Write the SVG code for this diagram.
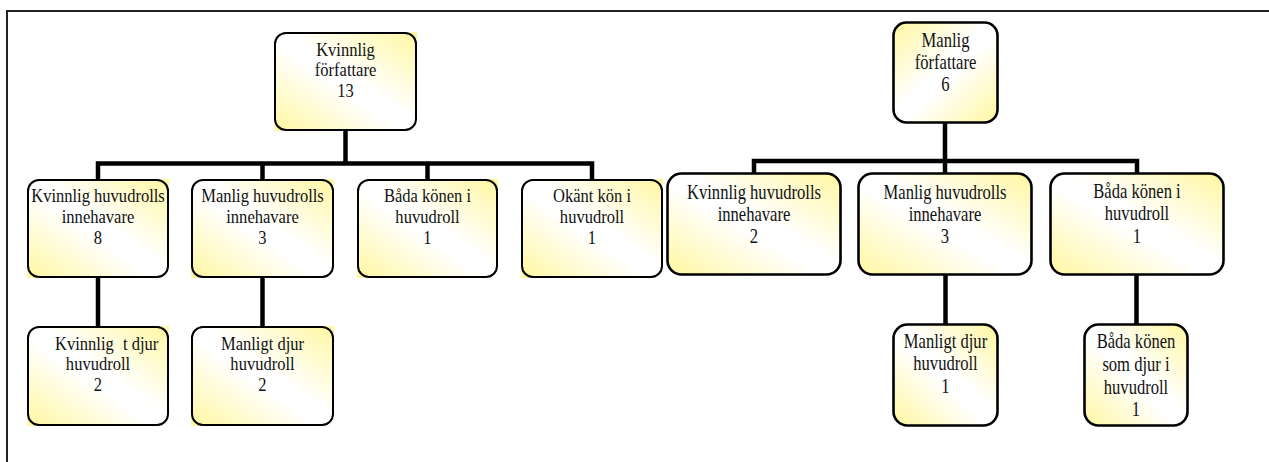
<svg xmlns="http://www.w3.org/2000/svg" width="1269" height="462" viewBox="0 0 1269 462">
<style>
.t{font-family:'Liberation Serif','Times New Roman',serif;fill:#111;text-anchor:middle}
.l{font-size:19px}
.r{font-size:21px}
.bg{stroke:none}
.bl{fill:none;stroke:#000;stroke-width:2}
.br{stroke:#000;stroke-width:2.6}
.cn{fill:none;stroke:#000;stroke-width:4.5;stroke-linejoin:miter}
</style>
<defs>
<linearGradient id="ga" x1="0" y1="1" x2="1" y2="0">
<stop offset="0" stop-color="#fff7a0"/>
<stop offset="0.45" stop-color="#ffffff"/>
<stop offset="0.55" stop-color="#ffffff"/>
<stop offset="1" stop-color="#fff7a0"/>
</linearGradient>
<linearGradient id="gb" x1="0" y1="0" x2="1" y2="1">
<stop offset="0" stop-color="#fff7a0"/>
<stop offset="0.45" stop-color="#ffffff"/>
<stop offset="0.55" stop-color="#ffffff"/>
<stop offset="1" stop-color="#fff7a0"/>
</linearGradient>
</defs>
<rect width="1269" height="462" fill="#fff"/>
<path d="M7,462 V11 H1269" fill="none" stroke="#222" stroke-width="2"/>

<g id="connectors">
<path class="cn" d="M98,179 V163.5 H592 V179"/>
<path class="cn" d="M345.5,131 V163.5"/>
<path class="cn" d="M262.5,163.5 V179"/>
<path class="cn" d="M427.5,163.5 V179"/>
<path class="cn" d="M98,278 V326"/>
<path class="cn" d="M262.5,278 V326"/>
<path class="cn" d="M754,173 V161 H1137 V173"/>
<path class="cn" d="M945,123 V173"/>
<path class="cn" d="M945.5,275 V324"/>
<path class="cn" d="M1136.5,275 V324"/>
</g>

<g font-family="Liberation Serif, Times New Roman, serif">

<g id="n_kvinnlig_forfattare">
<rect class="bg" x="274" y="32" width="143" height="99" fill="url(#ga)"/>
<rect class="bl" x="275" y="33" width="141" height="97" rx="11"/>
<g transform="translate(345.5,0) scale(0.87,1)">
<text class="t l" x="0" y="56">Kvinnlig</text>
<text class="t l" x="0" y="76">författare</text>
<text class="t l" x="0" y="97">13</text>
</g>
</g>

<g id="n_l_kvinnlig_huvudroll">
<rect class="bg" x="27" y="179" width="142" height="99" fill="url(#ga)"/>
<rect class="bl" x="28" y="180" width="140" height="97" rx="11"/>
<g transform="translate(98,0) scale(0.87,1)">
<text class="t l" x="0" y="202">Kvinnlig huvudrolls</text>
<text class="t l" x="0" y="223">innehavare</text>
<text class="t l" x="0" y="244">8</text>
</g>
</g>

<g id="n_l_manlig_huvudroll">
<rect class="bg" x="191" y="179" width="143" height="99" fill="url(#ga)"/>
<rect class="bl" x="192" y="180" width="141" height="97" rx="11"/>
<g transform="translate(262.5,0) scale(0.87,1)">
<text class="t l" x="0" y="202">Manlig huvudrolls</text>
<text class="t l" x="0" y="223">innehavare</text>
<text class="t l" x="0" y="244">3</text>
</g>
</g>

<g id="n_l_bada">
<rect class="bg" x="357" y="179" width="141" height="99" fill="url(#ga)"/>
<rect class="bl" x="358" y="180" width="139" height="97" rx="11"/>
<g transform="translate(427.5,0) scale(0.87,1)">
<text class="t l" x="0" y="202">Båda könen i</text>
<text class="t l" x="0" y="223">huvudroll</text>
<text class="t l" x="0" y="244">1</text>
</g>
</g>

<g id="n_l_okant">
<rect class="bg" x="521" y="179" width="142" height="99" fill="url(#ga)"/>
<rect class="bl" x="522" y="180" width="140" height="97" rx="11"/>
<g transform="translate(592,0) scale(0.87,1)">
<text class="t l" x="0" y="202">Okänt kön i</text>
<text class="t l" x="0" y="223">huvudroll</text>
<text class="t l" x="0" y="244">1</text>
</g>
</g>

<g id="n_l_kvinnligt_djur">
<rect class="bg" x="27" y="326" width="142" height="100" fill="url(#ga)"/>
<rect class="bl" x="28" y="327" width="140" height="98" rx="11"/>
<g transform="translate(98,0) scale(0.87,1)">
<text class="t l" x="-49.4" y="350" style="text-anchor:start">Kvinnlig<tspan x="28.7">t djur</tspan></text>
<text class="t l" x="0" y="370">huvudroll</text>
<text class="t l" x="0" y="391">2</text>
</g>
</g>

<g id="n_l_manligt_djur">
<rect class="bg" x="191" y="326" width="143" height="100" fill="url(#ga)"/>
<rect class="bl" x="192" y="327" width="141" height="98" rx="11"/>
<g transform="translate(262.5,0) scale(0.87,1)">
<text class="t l" x="0" y="350">Manligt djur</text>
<text class="t l" x="0" y="370">huvudroll</text>
<text class="t l" x="0" y="391">2</text>
</g>
</g>

<g id="n_manlig_forfattare">
<rect class="br" x="893.5" y="22.5" width="104" height="100" rx="13" fill="url(#gb)"/>
<g transform="translate(945.5,0) scale(0.79,1)">
<text class="t r" x="0" y="47">Manlig</text>
<text class="t r" x="0" y="69">författare</text>
<text class="t r" x="0" y="91">6</text>
</g>
</g>

<g id="n_r_kvinnlig_huvudroll">
<rect class="br" x="667.5" y="173.5" width="173" height="101" rx="14" fill="url(#ga)"/>
<g transform="translate(754,0) scale(0.79,1)">
<text class="t r" x="0" y="199">Kvinnlig huvudrolls</text>
<text class="t r" x="0" y="221">innehavare</text>
<text class="t r" x="0" y="243">2</text>
</g>
</g>

<g id="n_r_manlig_huvudroll">
<rect class="br" x="858.5" y="173.5" width="173" height="101" rx="14" fill="url(#ga)"/>
<g transform="translate(945,0) scale(0.79,1)">
<text class="t r" x="0" y="199">Manlig huvudrolls</text>
<text class="t r" x="0" y="221">innehavare</text>
<text class="t r" x="0" y="243">3</text>
</g>
</g>

<g id="n_r_bada">
<rect class="br" x="1050.5" y="173.5" width="173" height="101" rx="14" fill="url(#ga)"/>
<g transform="translate(1137,0) scale(0.79,1)">
<text class="t r" x="0" y="198">Båda könen i</text>
<text class="t r" x="0" y="220">huvudroll</text>
<text class="t r" x="0" y="243">1</text>
</g>
</g>

<g id="n_r_manligt_djur">
<rect class="br" x="893.5" y="324.5" width="104" height="101" rx="14" fill="url(#ga)"/>
<g transform="translate(945.5,0) scale(0.79,1)">
<text class="t r" x="0" y="348">Manligt djur</text>
<text class="t r" x="0" y="370">huvudroll</text>
<text class="t r" x="0" y="393">1</text>
</g>
</g>

<g id="n_r_bada_djur">
<rect class="br" x="1084.5" y="324.5" width="103" height="101" rx="14" fill="url(#ga)"/>
<g transform="translate(1136,0) scale(0.79,1)">
<text class="t r" x="0" y="348">Båda könen</text>
<text class="t r" x="0" y="371">som djur i</text>
<text class="t r" x="0" y="394">huvudroll</text>
<text class="t r" x="0" y="416">1</text>
</g>
</g>

</g>
</svg>
